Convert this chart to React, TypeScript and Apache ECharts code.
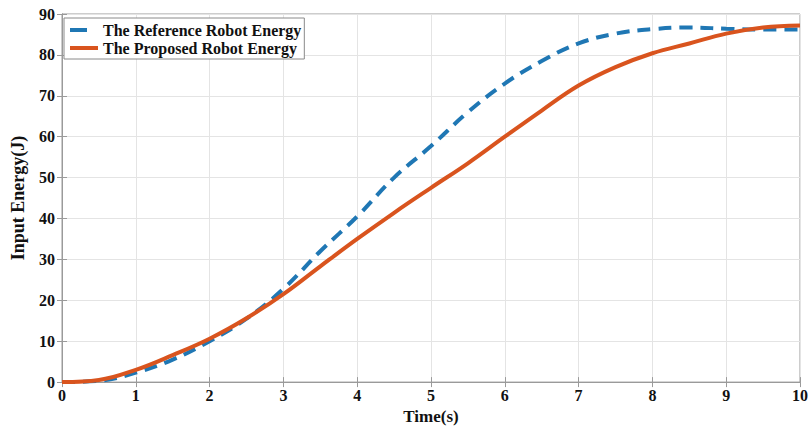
import React, { useEffect, useRef } from "react";
import * as echarts from "echarts";

const times = [0, 0.5, 1, 1.5, 2, 2.5, 3, 3.5, 4, 4.5, 5, 5.5, 6, 6.5, 7, 7.5, 8, 8.5, 9, 9.5, 10];
const referenceEnergy = [0, 0.3, 2.3, 5.5, 10, 15.5, 22.8, 32, 40.5, 50, 57.7, 66, 73, 78.5, 82.8, 85.2, 86.3, 86.7, 86.4, 86.2, 86.2];
const proposedEnergy = [0, 0.5, 3, 6.6, 10.6, 15.6, 21.5, 28.3, 35, 41.4, 47.5, 53.5, 60, 66.4, 72.5, 77, 80.4, 82.8, 85.2, 86.7, 87.2];
const seriesNames = ["The Reference Robot Energy", "The Proposed Robot Energy"];

const FONT = "'Liberation Serif', 'Times New Roman', serif";

export default function App() {
  const ref = useRef<HTMLDivElement>(null);
  useEffect(() => {
    if (!ref.current) return;
    const chart = echarts.init(ref.current, undefined, { renderer: "svg" });
    const blue = "#1f77b4";
    const orange = "#d9541e";
    const axisCommon = {
      axisLine: { show: true, lineStyle: { color: "#9a9a9a", width: 1 } },
      axisTick: { show: true, inside: true, length: 5, lineStyle: { color: "#9a9a9a" } },
      splitLine: { show: true, lineStyle: { color: "#e4e4e4", width: 1 } },
    };
    chart.setOption({
      animation: false,
      backgroundColor: "#ffffff",
      grid: { left: 62, right: 3, top: 14, bottom: 45, show: true, borderColor: "#9a9a9a", borderWidth: 1 },
      legend: {
        orient: "vertical",
        left: 64,
        top: 18,
        padding: [4, 3, 3, 6],
        itemGap: 2,
        itemWidth: 28,
        itemHeight: 4,
        backgroundColor: "#ffffff",
        borderColor: "#8a8a8a",
        borderWidth: 1,
        borderRadius: 0,
        itemStyle: { borderWidth: 0 },
        textStyle: { fontFamily: FONT, fontWeight: "bold", fontSize: 16, color: "#111" },
        data: [
          { name: seriesNames[0], icon: "path://M0,0H17V4H0Z M27.9,0H28V0.1H27.9Z" },
          { name: seriesNames[1], icon: "rect" },
        ],
      },
      xAxis: [
        {
          type: "value",
          min: 0,
          max: 10,
          interval: 1,
          name: "Time(s)",
          nameLocation: "middle",
          nameGap: 25,
          nameTextStyle: { fontFamily: FONT, fontWeight: "bold", fontSize: 17, color: "#111" },
          axisLabel: { fontFamily: FONT, fontWeight: "bold", fontSize: 16, color: "#111", margin: 5 },
          ...axisCommon,
        },
        {
          type: "value",
          position: "top",
          min: 0,
          max: 10,
          interval: 1,
          axisLabel: { show: false },
          axisLine: { show: true, lineStyle: { color: "#9a9a9a" } },
          axisTick: { show: true, inside: true, length: 5, lineStyle: { color: "#9a9a9a" } },
          splitLine: { show: false },
        },
      ],
      yAxis: [
        {
          type: "value",
          min: 0,
          max: 90,
          interval: 10,
          name: "Input Energy(J)",
          nameLocation: "middle",
          nameGap: 35,
          nameTextStyle: { fontFamily: FONT, fontWeight: "bold", fontSize: 18, color: "#111" },
          axisLabel: { fontFamily: FONT, fontWeight: "bold", fontSize: 16, color: "#111", margin: 7 },
          ...axisCommon,
        },
        {
          type: "value",
          position: "right",
          min: 0,
          max: 90,
          interval: 10,
          axisLabel: { show: false },
          axisLine: { show: true, lineStyle: { color: "#9a9a9a" } },
          axisTick: { show: true, inside: true, length: 5, lineStyle: { color: "#9a9a9a" } },
          splitLine: { show: false },
        },
      ],
      series: [
        {
          name: seriesNames[0],
          type: "line",
          smooth: 0.4,
          symbol: "none",
          color: blue,
          lineStyle: { color: blue, width: 4, type: [13, 8] },
          data: times.map((t, i) => [t, referenceEnergy[i]]),
          z: 3,
        },
        {
          name: seriesNames[1],
          type: "line",
          smooth: 0.4,
          symbol: "none",
          color: orange,
          lineStyle: { color: orange, width: 4 },
          data: times.map((t, i) => [t, proposedEnergy[i]]),
          z: 4,
        },
      ],
    });
    return () => chart.dispose();
  }, []);
  return <div ref={ref} style={{ width: 811, height: 430, position: "absolute", left: 0, top: 0 }} />;
}
